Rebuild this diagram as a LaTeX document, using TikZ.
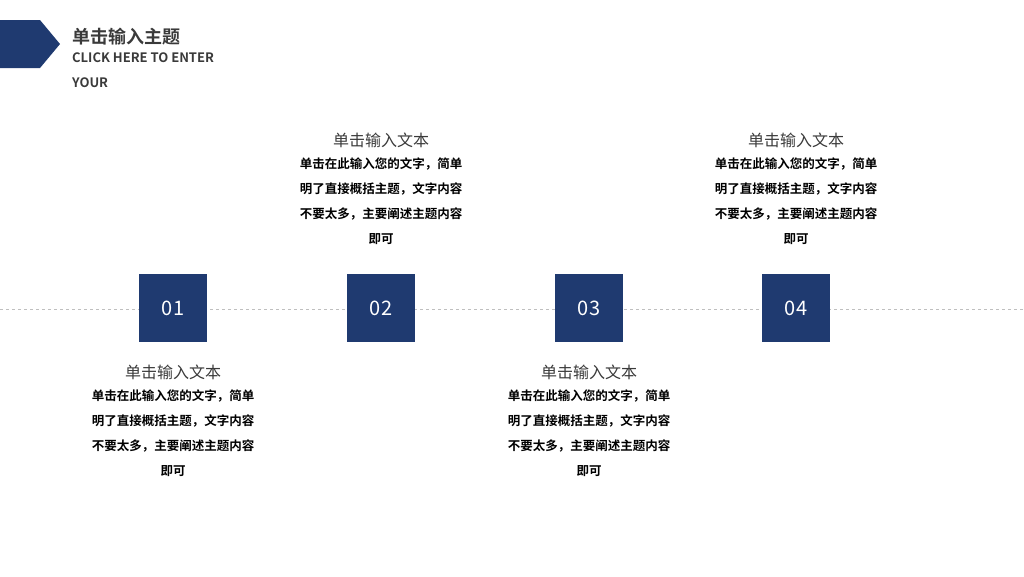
\documentclass[tikz,border=0pt]{standalone}
\usepackage{fontspec}
\setmainfont{Noto Sans CJK SC}
\newfontfamily\cjk{Noto Sans CJK SC}
\newfontfamily\cjkb{Noto Sans CJK SC Bold}
\definecolor{navy}{HTML}{1F3A70}
\definecolor{txt}{HTML}{3A3A3A}
\tikzset{
  numbox/.style={fill=navy,minimum size=68pt,inner sep=0,text=white,font=\cjk\fontsize{20}{20}\selectfont},
  head/.style={text=txt,font=\cjk\fontsize{16}{16}\selectfont,inner sep=0},
  body/.style={text=black,font=\cjkb\fontsize{12.5}{25}\selectfont,align=center,inner sep=0,anchor=north},
}
\begin{document}
\begin{tikzpicture}[x=1pt,y=-1pt]
\useasboundingbox (0,0) rectangle (1024,576);
\fill[navy] (0,20) -- (40,20) -- (60,44) -- (40,68) -- (0,68) -- cycle;
\node[anchor=west,inner sep=0,font=\cjkb\fontsize{18}{18}\selectfont,text=txt] (title) at (72,37) {单击输入主题};
\node[anchor=north west,inner sep=0,align=left,font=\cjkb\fontsize{13}{25}\selectfont,text=txt] (sub) at (72,52) {CLICK HERE TO ENTER\\YOUR};
\draw[gray!50,dashed,line width=0.6pt] (0,309) -- (1024,309);
\foreach \n/\x/\hy/\by in {01/173/372/390, 02/381/140/158, 03/589/372/390, 04/796/140/158}{
  \node[numbox] (b\n) at (\x,308) {\n};
  \node[head] (h\n) at (\x,\hy) {单击输入文本};
  \node[body] (t\n) at (\x,\by) {单击在此输入您的文字，简单\\明了直接概括主题，文字内容\\不要太多，主要阐述主题内容\\即可};
}
\end{tikzpicture}
\end{document}
